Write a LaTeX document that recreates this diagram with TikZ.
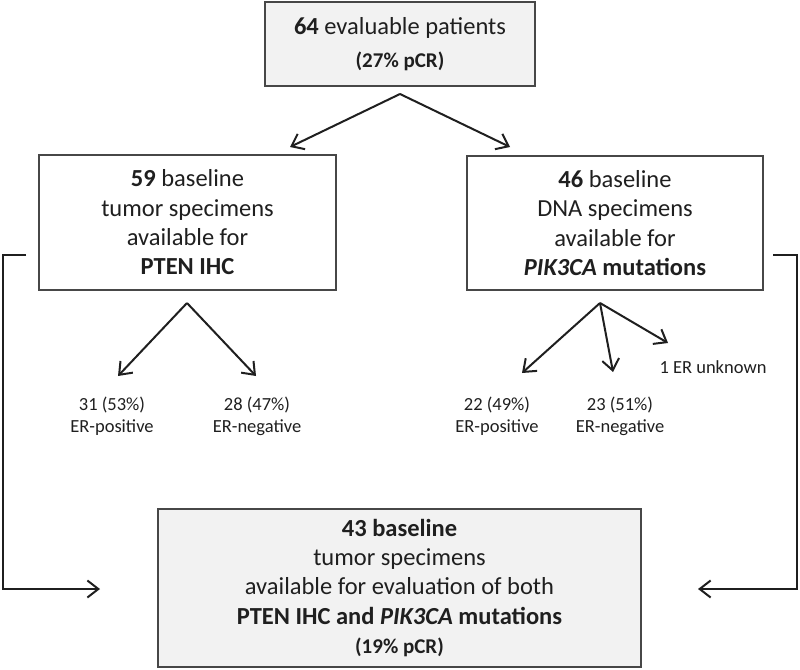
\documentclass[tikz,border=0pt]{standalone}
\usepackage{fontspec}
\setmainfont{Carlito}
\usetikzlibrary{arrows.meta, positioning}

\tikzset{
  box/.style={draw=black!72, line width=1.3pt, align=center, inner sep=0pt,
    text=black!88, font=\fontsize{24.5}{29.3}\selectfont},
  shaded/.style={box, fill=black!5},
  count/.style={align=center, inner sep=0pt, text=black!88,
    font=\fontsize{18.5}{22}\selectfont},
  arr/.style={-{Straight Barb[length=11pt, width=17pt, line width=2pt]},
    line width=2pt, black!88},
  side/.style={arr, rounded corners=0pt}
}

\begin{document}
\begin{tikzpicture}[x=1pt, y=-1pt]
  \useasboundingbox (0,0) rectangle (800,669);

  % boxes
  \node[shaded, minimum width=270, minimum height=84] (all) at (400,44)
    {\textbf{64} evaluable patients\\[3.5pt]
     {\fontsize{21}{25}\selectfont\bfseries (27\% pCR)}};
  \node[box, minimum width=297, minimum height=135] (pten) at (187.5,222.5)
    {\textbf{59} baseline\\ tumor specimens\\ available for\\ \textbf{PTEN IHC}};
  \node[box, minimum width=296, minimum height=134] (pik) at (615,223)
    {\textbf{46} baseline\\ DNA specimens\\ available for\\
     \textbf{\textit{PIK3CA} mutations}};
  \node[shaded, minimum width=483, minimum height=158] (both) at (399.5,588)
    {\textbf{43 baseline}\\ tumor specimens\\ available for evaluation of both\\
     \textbf{PTEN IHC and \textit{PIK3CA} mutations}\\
     {\fontsize{21}{25}\selectfont\bfseries (19\% pCR)}};

  % ER counts
  \node[count] (pten pos) at (112,416) {31 (53\%)\\ ER-positive};
  \node[count] (pten neg) at (257,416) {28 (47\%)\\ ER-negative};
  \node[count] (pik pos)  at (497,416) {22 (49\%)\\ ER-positive};
  \node[count] (pik neg)  at (620,416) {23 (51\%)\\ ER-negative};
  \node[count] (pik unk)  at (713,367) {1 ER unknown};

  % split points and free ends
  \coordinate (all split) at (400,94);
  \coordinate (to pten)   at (290,147);
  \coordinate (to pik)    at (510,147);
  \coordinate (pten split) at (187,303);
  \coordinate (pik split)  at (600,303);
  \coordinate (to pten pos) at (118,376);
  \coordinate (to pten neg) at (256,376);
  \coordinate (to pik pos)  at (522,373);
  \coordinate (to pik neg)  at (613,372);
  \coordinate (to pik unk)  at (668,343);
  \coordinate (pten out) at (26,255);
  \coordinate (pik out)  at (773,255);
  \coordinate (both in left)  at (100,589);
  \coordinate (both in right) at (698,589);

  % arrows
  \draw[arr] (all split) -- (to pten);
  \draw[arr] (all split) -- (to pik);
  \draw[arr] (pten split) -- (to pten pos);
  \draw[arr] (pten split) -- (to pten neg);
  \draw[arr] (pik split) -- (to pik pos);
  \draw[arr] (pik split) -- (to pik neg);
  \draw[arr] (pik split) -- (to pik unk);
  \draw[side] (pten out) -- (3,255) -- (3,589) -- (both in left);
  \draw[side] (pik out) -- (797,255) -- (797,589) -- (both in right);
\end{tikzpicture}
\end{document}
